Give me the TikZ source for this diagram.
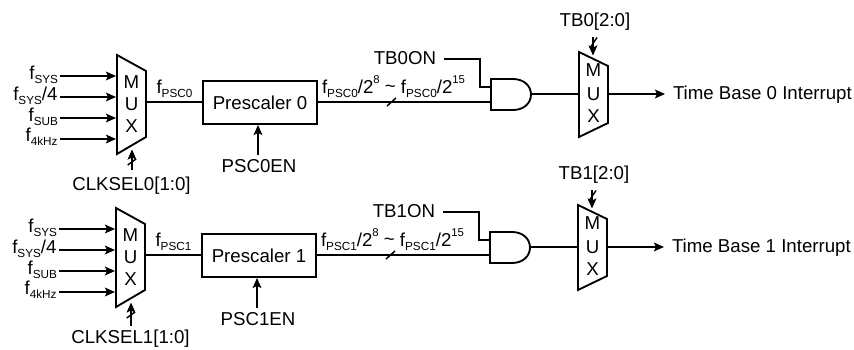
\documentclass[tikz,border=0pt]{standalone}
\usepackage{fontspec}
\setmainfont{Liberation Sans}
\usetikzlibrary{arrows.meta}
\newcommand{\sbs}[1]{\raisebox{-0.22em}{\fontsize{8.8}{10}\selectfont #1}}
\newcommand{\sps}[1]{\raisebox{0.55em}{\fontsize{8.5}{10}\selectfont #1}}
\tikzset{
  wire/.style={line width=1.35pt},
  arrowwire/.style={line width=1.35pt,-{Stealth[length=7.5pt,width=6.5pt,inset=1.5pt]}},
  thinwire/.style={line width=1.1pt},
  shapeline/.style={line width=1.4pt,line join=miter},
  txt/.style={inner sep=0pt,outer sep=0pt,font=\fontsize{14}{16}\selectfont},
  lbl/.style={txt,anchor=base},
  lble/.style={txt,anchor=base east},
  lblw/.style={txt,anchor=base west},
  box/.style={draw,line width=1.4pt,minimum width=85.5pt,minimum height=32.25pt,inner sep=0pt,font=\fontsize{14}{16}\selectfont}
}
% #1 index, #2 shift, #3 select arrow start y
\newcommand{\timebase}[3]{%
\begin{scope}[shift={#2}]
  % input mux
  \draw[shapeline] (117,55) -- (146,71) -- (146,137) -- (117,154) -- cycle;
  \node[txt] (mm#1) at (131.5,82) {M};
  \node[txt] (mu#1) at (131.5,104) {U};
  \node[txt] (mx#1) at (131.5,126) {X};
  \coordinate (in1#1) at (116,76);
  \coordinate (in2#1) at (116,97);
  \coordinate (in3#1) at (116,118);
  \coordinate (in4#1) at (116,139);
  \coordinate (mout#1) at (146,102);
  \node[lble] (la#1) at (58,79.5) {f\sbs{SYS}};
  \node[lble] (lb#1) at (57.5,100) {f\sbs{SYS}/4};
  \node[lble] (lc#1) at (58,121) {f\sbs{SUB}};
  \node[lble] (ld#1) at (57.5,141) {f\sbs{4kHz}};
  \coordinate (sa#1) at (60,76);
  \coordinate (sb#1) at (60,97);
  \coordinate (sc#1) at (60,118);
  \coordinate (sd#1) at (60,139);
  \draw[arrowwire] (sa#1) -- (in1#1);
  \draw[arrowwire] (sb#1) -- (in2#1);
  \draw[arrowwire] (sc#1) -- (in3#1);
  \draw[arrowwire] (sd#1) -- (in4#1);
  % select
  \coordinate (sels#1) at (132,#3);
  \coordinate (sele#1) at (132,149.5);
  \draw[arrowwire] (sels#1) -- (sele#1);
  \draw[thinwire] (127.7,165) -- (136,159);
  \node[lbl] (clk#1) at (131.5,190.5) {CLKSEL#1[1:0]};
  % prescaler
  \node[box] (pre#1) at (260,102.5) {Prescaler #1};
  \draw[wire] (mout#1) -- (mout#1 -| pre#1.west);
  \node[lblw] (fp#1) at (156.5,93) {f\sbs{PSC#1}};
  \node[lbl] (en#1) at (259,172) {PSC#1EN};
  \coordinate (ens#1) at (258,155);
  \draw[arrowwire] (ens#1) -- (ens#1 |- pre#1.south);
  % AND gate
  \draw[shapeline] (513,79) -- (491,79) -- (491,110) -- (513,110)
     .. controls (524,110) and (531,103) .. (531,94.5)
     .. controls (531,86) and (524,79) .. (513,79) -- cycle;
  \coordinate (andt#1) at (491,87);
  \coordinate (andb#1) at (491,102);
  \coordinate (ando#1) at (531,94);
  \draw[wire] (pre#1.east |- andb#1) -- (andb#1);
  \draw[thinwire] (387,106) -- (396,98);
  \node[lblw] (ff#1) at (322,93.3) {f\sbs{PSC#1}/2\sps{8} \raisebox{0.05em}{\char`~} f\sbs{PSC#1}/2\sps{15}};
  \node[lble] (on#1) at (436,64) {TB#1ON};
  \coordinate (ons#1) at (444,59);
  \coordinate (onc#1) at (480,59);
  \draw[wire] (ons#1) -- (onc#1) |- (andt#1);
  % output mux
  \draw[shapeline] (579,52) -- (608,66) -- (608,123) -- (579,137) -- cycle;
  \node[txt] (om#1) at (593.5,70.5) {M};
  \node[txt] (ou#1) at (593.5,94) {U};
  \node[txt] (ox#1) at (593.5,116) {X};
  \coordinate (omi#1) at (579,94);
  \coordinate (omo#1) at (608,94);
  \coordinate (ome#1) at (665,94);
  \draw[wire] (ando#1) -- (omi#1);
  \draw[arrowwire] (omo#1) -- (ome#1);
  \node[lblw] (ti#1) at (673,99.5) {Time Base #1 Interrupt};
  \node[lbl] (tb#1) at (595,26.7) {TB#1[2:0]};
  \coordinate (tbs#1) at (593,37);
  \coordinate (tbe#1) at (593,55.5);
  \draw[arrowwire] (tbs#1) -- (tbe#1);
  \draw[thinwire] (590,48) -- (597,37.5);
\end{scope}}
\begin{document}
\begin{tikzpicture}[x=0.75pt,y=-0.75pt]
\useasboundingbox (0,0) rectangle (854,350);
\timebase{0}{(0,0)}{170}
\timebase{1}{(-1,153)}{173}
\end{tikzpicture}
\end{document}
